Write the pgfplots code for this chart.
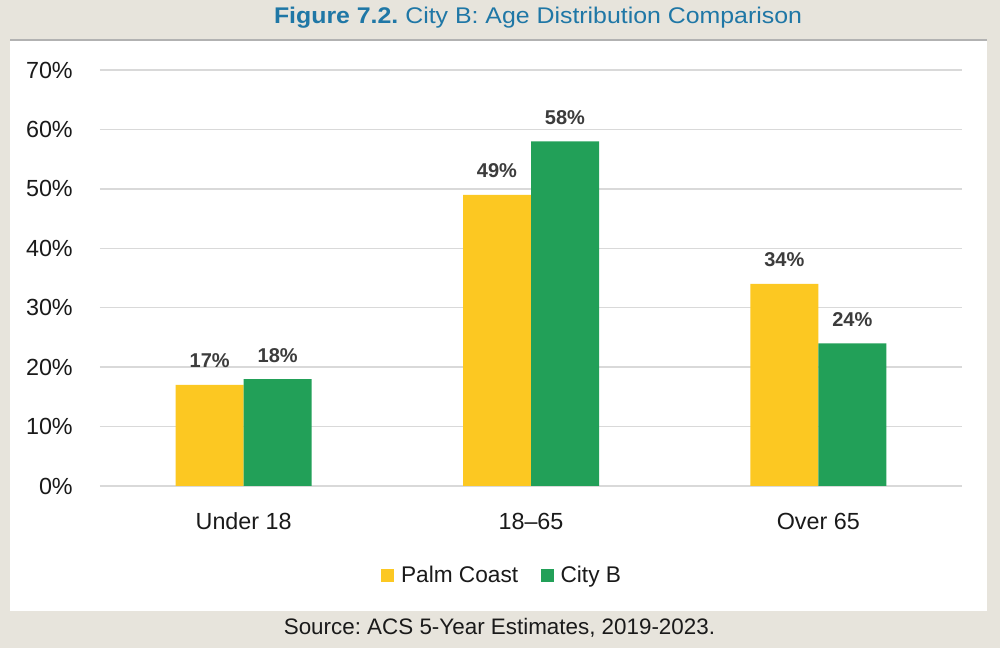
\documentclass[border=0pt]{standalone}
\usepackage{pgfplots}
\pgfplotsset{compat=1.18}
\usepackage{fontspec}
\setmainfont{Liberation Sans}
\usepackage{graphicx}
\frenchspacing
\definecolor{bgbeige}{HTML}{E7E4DC}
\definecolor{titleblue}{HTML}{1F77A6}
\definecolor{pcyellow}{HTML}{FCC822}
\definecolor{cbgreen}{HTML}{22A058}
\definecolor{gridgray}{HTML}{D9D9D9}
\definecolor{labelgray}{HTML}{3C3C3C}
\definecolor{ticktext}{HTML}{1A1A1A}
\begin{document}
\begin{tikzpicture}[x=1pt,y=1pt]
\fill[bgbeige] (0,0) rectangle (750,486);
\fill[white] (7.5,27.75) rectangle (740.25,456);
\draw[black!30, line width=0.9pt] (7.5,456) -- (740.25,456);
\node[text=titleblue, anchor=base, inner sep=0pt] at (403.5,468.5) {\resizebox{396pt}{\height}{\fontsize{17}{19}\selectfont\textbf{Figure 7.2.} City B: Age Distribution Comparison}};
\node[text=ticktext, anchor=base, inner sep=0pt] at (374.6,9.75) {\fontsize{16.8}{19}\selectfont Source: ACS 5-Year Estimates, 2019-2023.};
\begin{axis}[
  scale only axis, width=646.5pt, height=312pt,
  at={(75pt,121.5pt)}, anchor=south west,
  xmin=-0.5, xmax=2.5, ymin=0, ymax=70,
  ybar=0pt, bar width=51pt,
  xtick={0,1,2}, xticklabels={Under 18, 18--65, Over 65},
  ytick={0,10,...,70},
  yticklabel={\pgfmathprintnumber[assume math mode=true]{\tick}\%},
  ymajorgrids, grid style={color=gridgray, line width=1.1pt},
  axis line style={draw=none}, major tick length=0pt,
  tick label style={text=ticktext, font=\fontsize{17.5}{20}\selectfont},
  xticklabel style={anchor=base, inner sep=0pt, yshift=-33pt},
  yticklabel style={anchor=east, inner sep=0pt, xshift=-20.25pt},
  nodes near coords={\pgfmathprintnumber[assume math mode=true]{\pgfplotspointmeta}\%},
  nodes near coords style={anchor=base, inner sep=0pt, yshift=12.75pt, text=labelgray, font=\fontsize{15}{17}\selectfont\bfseries},
  clip=false,
  legend columns=2,
  legend style={at={(0.467,-0.215)}, anchor=center, draw=none, fill=none, font=\fontsize{17}{20}\selectfont, text=ticktext,
    /tikz/every odd column/.append style={column sep=3pt},
    /tikz/every even column/.append style={column sep=15pt}},
  legend image code/.code={\fill[#1] (0pt,-4.875pt) rectangle (9.75pt,4.875pt);},
]
\addplot[fill=pcyellow, draw=none] coordinates {(0,17) (1,49) (2,34)};
\addplot[fill=cbgreen, draw=none] coordinates {(0,18) (1,58) (2,24)};
\legend{Palm Coast, City B}
\end{axis}
\end{tikzpicture}
\end{document}
